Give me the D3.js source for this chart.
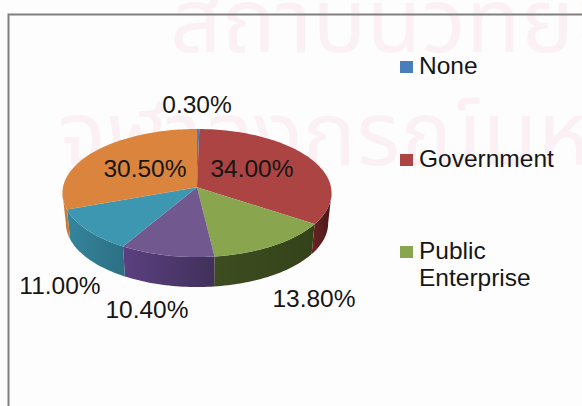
<!DOCTYPE html>
<html>
<head>
<meta charset="utf-8">
<script src="https://cdn.jsdelivr.net/npm/d3@7"></script>
<style>
html, body { margin: 0; padding: 0; background: #fefdfd; overflow: hidden; }
svg { display: block; }
text { font-family: "Liberation Sans", Arial, sans-serif; fill: #161616; }
</style>
</head>
<body>
<div id="chart"></div>
<script>
// values, clockwise from the top
const values = [0.3, 34.0, 13.8, 10.4, 11.0, 30.5];
const valueLabels = ["0.30%", "34.00%", "13.80%", "10.40%", "11.00%", "30.50%"];
const topColors = ["#4a7ebb", "#ab4442", "#89a54e", "#71588f", "#3d97b0", "#db843d"];
const sideLight = ["#4a7ebb", "#6a2423", "#3d4d20", "#5b4080", "#35859c", "#c97a35"];
const sideDark = ["#4a7ebb", "#4a1718", "#344219", "#41305a", "#2c6f84", "#c97a35"];
const legendNames = [["None"], ["Government"], ["Public", "Enterprise"]];
const watermarkLines = ["สถาบันวิทยบริการ", "จุฬาลงกรณ์มหาวิทยาลัย"];

const width = 582, height = 406;

// where the text sits
const labelX = [197, 252, 314, 147, 60, 145];
const labelY = [113, 177, 307, 318, 294, 177];
const legendX = 400, legendTextX = 419;
const legendY = [61, 154, 246];

var svg = d3.select("#chart").append("svg")
    .attr("width", width)
    .attr("height", height);

svg.append("rect").attr("width", width).attr("height", height).attr("fill", "#fefdfd");

// pale watermark behind the chart
svg.selectAll(".watermark")
    .data(watermarkLines)
    .enter()
    .append("text")
    .attr("class", "watermark")
    .attr("x", (d, i) => i == 0 ? 170 : 58)
    .attr("y", (d, i) => i == 0 ? 52 : 165)
    .style("font-family", "'Noto Sans Thai', 'Noto Sans', 'DejaVu Sans', sans-serif")
    .style("font-size", "90px")
    .style("fill", "#fbf1f4")
    .text(d => d);

// frame, cut off at the right and the bottom
svg.append("path")
    .attr("d", d3.line()([[8.5, height], [8.5, 14.5], [width, 14.5]]))
    .attr("fill", "none")
    .attr("stroke", "#808080")
    .attr("stroke-width", 2);

// tilted pie with a bit of perspective: the centre sits above the middle of the ellipse
const x = d3.scaleLinear().domain([-1, 1]).range([63, 331]);
const y = d3.scaleLinear().domain([-1, 1]).range([129, 257]);
const depth = 30;
const tilt = 0.09;
const apex = [x(0), y(-tilt)];

const arcs = d3.pie().sort(null)(values);

function rim(a) {
    const u = Math.sin(a), v = -Math.cos(a), w = 1 - tilt * v;
    return [x(u / w), y((v - tilt) / w)];
}

function arcPoints(a0, a1) {
    const n = Math.max(2, Math.ceil((a1 - a0) * 40));
    return d3.range(n + 1).map(i => rim(a0 + (a1 - a0) * i / n));
}

const defs = svg.append("defs");
arcs.forEach((d, i) => {
    const grad = defs.append("linearGradient").attr("id", "side" + i);
    grad.append("stop").attr("offset", "0%").attr("stop-color", sideLight[i]);
    grad.append("stop").attr("offset", "100%").attr("stop-color", sideDark[i]);
});

// side walls only exist on the front half
const front0 = Math.PI / 2 + tilt, front1 = Math.PI * 1.5 - tilt;
svg.selectAll(".side")
    .data(arcs.filter(d => d.endAngle > front0 && d.startAngle < front1))
    .enter()
    .append("path")
    .attr("class", "side")
    .attr("fill", d => `url(#side${d.index})`)
    .attr("d", d => {
        const top = arcPoints(Math.max(d.startAngle, front0), Math.min(d.endAngle, front1));
        // the lower rim is a little narrower
        const shrink = p => [x(0) + (p[0] - x(0)) * 0.975, p[1] + depth];
        return d3.line()(top.concat(top.slice().reverse().map(shrink))) + "Z";
    });

svg.selectAll(".slice")
    .data(arcs)
    .enter()
    .append("path")
    .attr("class", "slice")
    .attr("fill", d => topColors[d.index])
    .attr("d", d => d3.line()([apex].concat(arcPoints(d.startAngle, d.endAngle))) + "Z");

svg.selectAll(".valueLabel")
    .data(valueLabels)
    .enter()
    .append("text")
    .attr("class", "valueLabel")
    .attr("x", (d, i) => labelX[i])
    .attr("y", (d, i) => labelY[i])
    .attr("text-anchor", "middle")
    .style("font-size", "24.5px")
    .text(d => d);

// legend
var legend = svg.selectAll(".legend")
    .data(legendNames)
    .enter()
    .append("g")
    .attr("class", "legend");

legend.append("rect")
    .attr("x", legendX)
    .attr("y", (d, i) => legendY[i])
    .attr("width", 13)
    .attr("height", 12)
    .attr("fill", (d, i) => topColors[i]);

legend.each(function (names, i) {
    d3.select(this).selectAll("text")
        .data(names)
        .enter()
        .append("text")
        .attr("x", legendTextX)
        .attr("y", (d, j) => legendY[i] + 13 + j * 27)
        .style("font-size", "24.5px")
        .text(d => d);
});
</script>
</body>
</html>
